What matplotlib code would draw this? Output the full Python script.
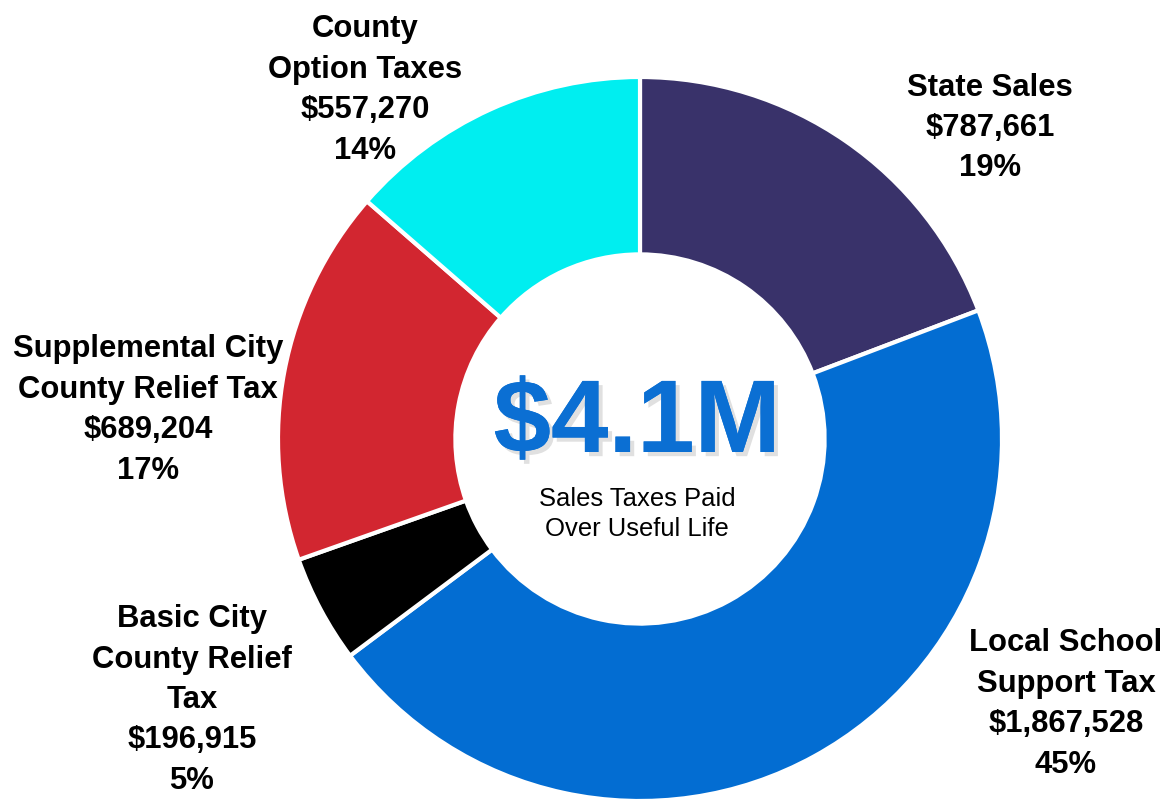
import matplotlib
matplotlib.use("Agg")
import matplotlib.pyplot as plt
import matplotlib.patheffects as pe
from matplotlib import font_manager as fm

# data
names = ["State Sales", "Local School\nSupport Tax", "Basic City\nCounty Relief\nTax",
         "Supplemental City\nCounty Relief Tax", "County\nOption Taxes"]
values = [787661, 1867528, 196915, 689204, 557270]
percents = [19, 45, 5, 17, 14]
colors = ["#39326A", "#036DD2", "#000000", "#D22630", "#00EEF0"]
# label centre positions (pixels, from top-left)
label_xy = [(990, 128), (1066, 704), (192, 700), (148, 410), (365, 90)]


def pick_font(cands):
    for c in cands:
        try:
            fm.findfont(fm.FontProperties(family=c, weight='bold'), fallback_to_default=False)
            return c
        except ValueError:
            pass
    return 'DejaVu Sans'


fam = pick_font(['Liberation Sans Narrow', 'Arial Narrow', 'Liberation Sans'])
narrow = fam != 'Liberation Sans'
k = 1.0 if narrow else 0.86
plt.rcParams['font.family'] = [fam, 'DejaVu Sans']

W, H = 1168, 804
fig = plt.figure(figsize=(W / 100, H / 100), dpi=100)
ax = fig.add_axes([0, 0, 1, 1])

R = 362
cx, cy = 640, H - 440
ax.pie(values, startangle=90, counterclock=False, radius=R, center=(cx, cy),
       colors=colors, frame=True,
       wedgeprops=dict(width=R * 0.49, edgecolor='white', linewidth=3))
ax.set_xlim(0, W)
ax.set_ylim(0, H)
ax.set_aspect('equal')
ax.axis('off')

total = sum(values)
for n, v, p, (x, y) in zip(names, values, percents, label_xy):
    txt = "%s\n$%s\n%d%%" % (n, format(v, ","), p)
    ax.text(x, H - y, txt, ha='center', va='center', fontsize=26 * k,
            fontweight='bold', linespacing=1.45 if not narrow else 1.2, color='black')

ax.text(637, H - 453, "$%.1fM" % (total / 1e6), ha='center', va='baseline',
        fontsize=94 * k * 0.92, fontweight='bold', color='#0B6FD3',
        path_effects=[pe.withSimplePatchShadow(offset=(3, -3), shadow_rgbFace='#999999', alpha=0.3),
                      pe.Normal()])
ax.text(637, H - 514, "Sales Taxes Paid\nOver Useful Life", ha='center', va='center',
        fontsize=21.5 * k, color='black', linespacing=1.35)

fig.savefig("out.png", dpi=100)
